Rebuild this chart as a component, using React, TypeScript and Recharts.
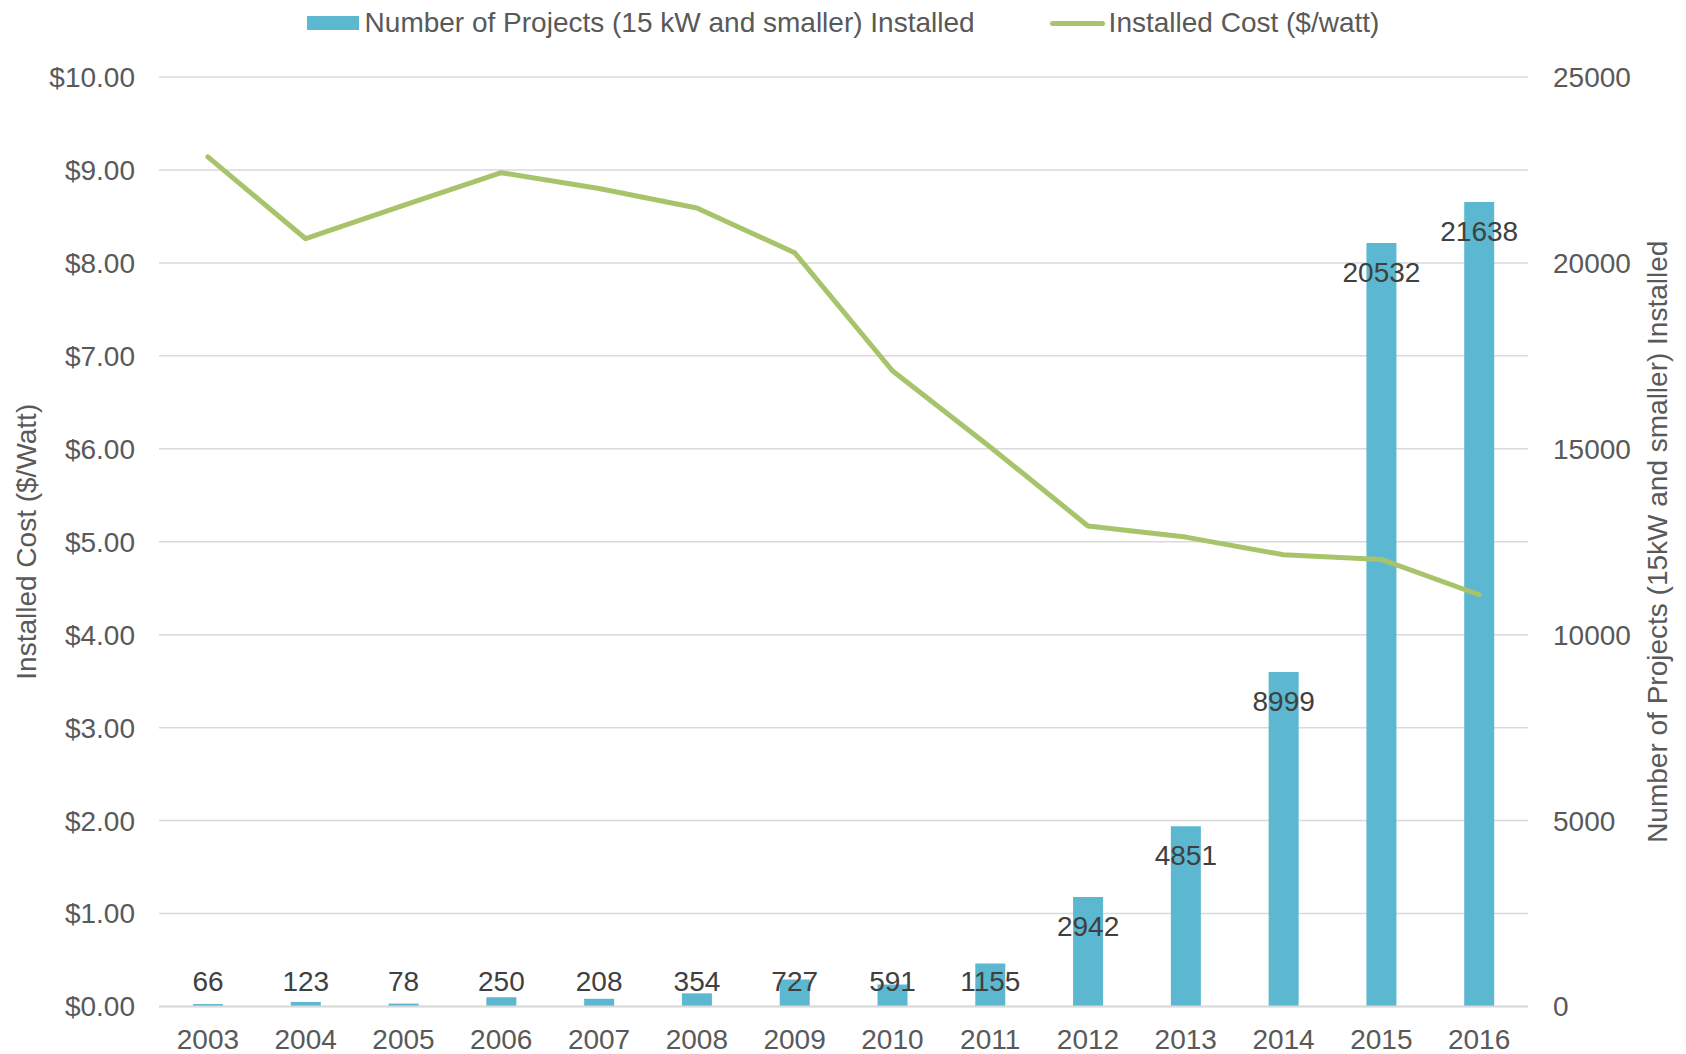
import {
  ComposedChart,
  Bar,
  Line,
  XAxis,
  YAxis,
  CartesianGrid,
  Legend,
  LabelList,
} from 'recharts';

const years = ['2003', '2004', '2005', '2006', '2007', '2008', '2009', '2010', '2011', '2012', '2013', '2014', '2015', '2016'];
const projectsInstalled = [66, 123, 78, 250, 208, 354, 727, 591, 1155, 2942, 4851, 8999, 20532, 21638];
const costPerWatt = [9.14, 8.26, 8.62, 8.97, 8.8, 8.59, 8.11, 6.84, 6.02, 5.17, 5.05, 4.86, 4.81, 4.43];
const costTicks = [0, 1, 2, 3, 4, 5, 6, 7, 8, 9, 10];
const projectTicks = [0, 5000, 10000, 15000, 20000, 25000];

const FONT = '"Liberation Sans", Arial, sans-serif';
const BAR_COLOR = '#5BB8D0';
const LINE_COLOR = '#A7C46B';
const TEXT_COLOR = '#595959';
const GRID_COLOR = '#D9D9D9';

const data = years.map((year, i) => ({
  year,
  projects: projectsInstalled[i],
  cost: costPerWatt[i],
}));

function ChartLegend() {
  return (
    <div
      style={{
        display: 'flex',
        justifyContent: 'center',
        alignItems: 'center',
        height: 46,
        gap: 75,
        fontFamily: FONT,
        fontSize: 28,
        color: TEXT_COLOR,
        whiteSpace: 'nowrap',
      }}
    >
      <div style={{ display: 'flex', alignItems: 'center' }}>
        <div style={{ width: 52, height: 14, background: BAR_COLOR, marginRight: 6 }} />
        <span>Number of Projects (15 kW and smaller) Installed</span>
      </div>
      <div style={{ display: 'flex', alignItems: 'center' }}>
        <div style={{ width: 55, height: 5, background: LINE_COLOR, borderRadius: 2.5, marginRight: 4 }} />
        <span>Installed Cost ($/watt)</span>
      </div>
    </div>
  );
}

// labels sit just inside the bar top, but never lower than the row of small-bar labels
function BarValueLabel(props: any) {
  const x = Number(props.x);
  const y = Number(props.y);
  const width = Number(props.width);
  const cy = Math.min(y + 29, 981);
  return (
    <text
      x={x + width / 2}
      y={cy}
      dy="0.36em"
      textAnchor="middle"
      fontFamily={FONT}
      fontSize={28}
      fill="#404040"
    >
      {props.value}
    </text>
  );
}

export default function App() {
  return (
    <div style={{ position: 'absolute', left: 0, top: 0, background: '#fff' }}>
      <ComposedChart
        width={1686}
        height={1054}
        data={data}
        margin={{ top: 31, right: 0, bottom: 0, left: 0 }}
        style={{ fontFamily: FONT }}
      >
        <Legend
          verticalAlign="top"
          align="center"
          content={() => <ChartLegend />}
          wrapperStyle={{ top: 0, left: 0, width: 1686, margin: 0 }}
        />
        <CartesianGrid yAxisId="cost" vertical={false} stroke={GRID_COLOR} strokeWidth={1.5} />
        <XAxis
          dataKey="year"
          interval={0}
          tickLine={false}
          tickSize={0}
          tickMargin={23}
          height={47.5}
          axisLine={{ stroke: GRID_COLOR, strokeWidth: 2 }}
          tick={{ fill: TEXT_COLOR, fontSize: 28 }}
        />
        <YAxis
          yAxisId="cost"
          domain={[0, 10]}
          ticks={costTicks}
          tickFormatter={(v: number) => `$${v.toFixed(2)}`}
          axisLine={false}
          tickLine={false}
          tickSize={0}
          tickMargin={24}
          width={159}
          tick={{ fill: TEXT_COLOR, fontSize: 28 }}
          label={{
            value: 'Installed Cost ($/Watt)',
            angle: -90,
            position: 'insideLeft',
            offset: 26,
            style: { textAnchor: 'middle', fill: TEXT_COLOR, fontSize: 28 },
          }}
        />
        <YAxis
          yAxisId="count"
          orientation="right"
          domain={[0, 25000]}
          ticks={projectTicks}
          axisLine={false}
          tickLine={false}
          tickSize={0}
          tickMargin={25}
          width={158}
          tick={{ fill: TEXT_COLOR, fontSize: 28 }}
          label={{
            value: 'Number of Projects (15kW and smaller) Installed',
            angle: -90,
            position: 'insideRight',
            offset: 29,
            style: { textAnchor: 'middle', fill: TEXT_COLOR, fontSize: 28 },
          }}
        />
        <Bar
          yAxisId="count"
          dataKey="projects"
          fill={BAR_COLOR}
          barSize={30}
          isAnimationActive={false}
        >
          <LabelList dataKey="projects" content={BarValueLabel} />
        </Bar>
        <Line
          yAxisId="cost"
          type="linear"
          dataKey="cost"
          stroke={LINE_COLOR}
          strokeWidth={5}
          strokeLinecap="round"
          strokeLinejoin="round"
          dot={false}
          activeDot={false}
          isAnimationActive={false}
        />
      </ComposedChart>
    </div>
  );
}
